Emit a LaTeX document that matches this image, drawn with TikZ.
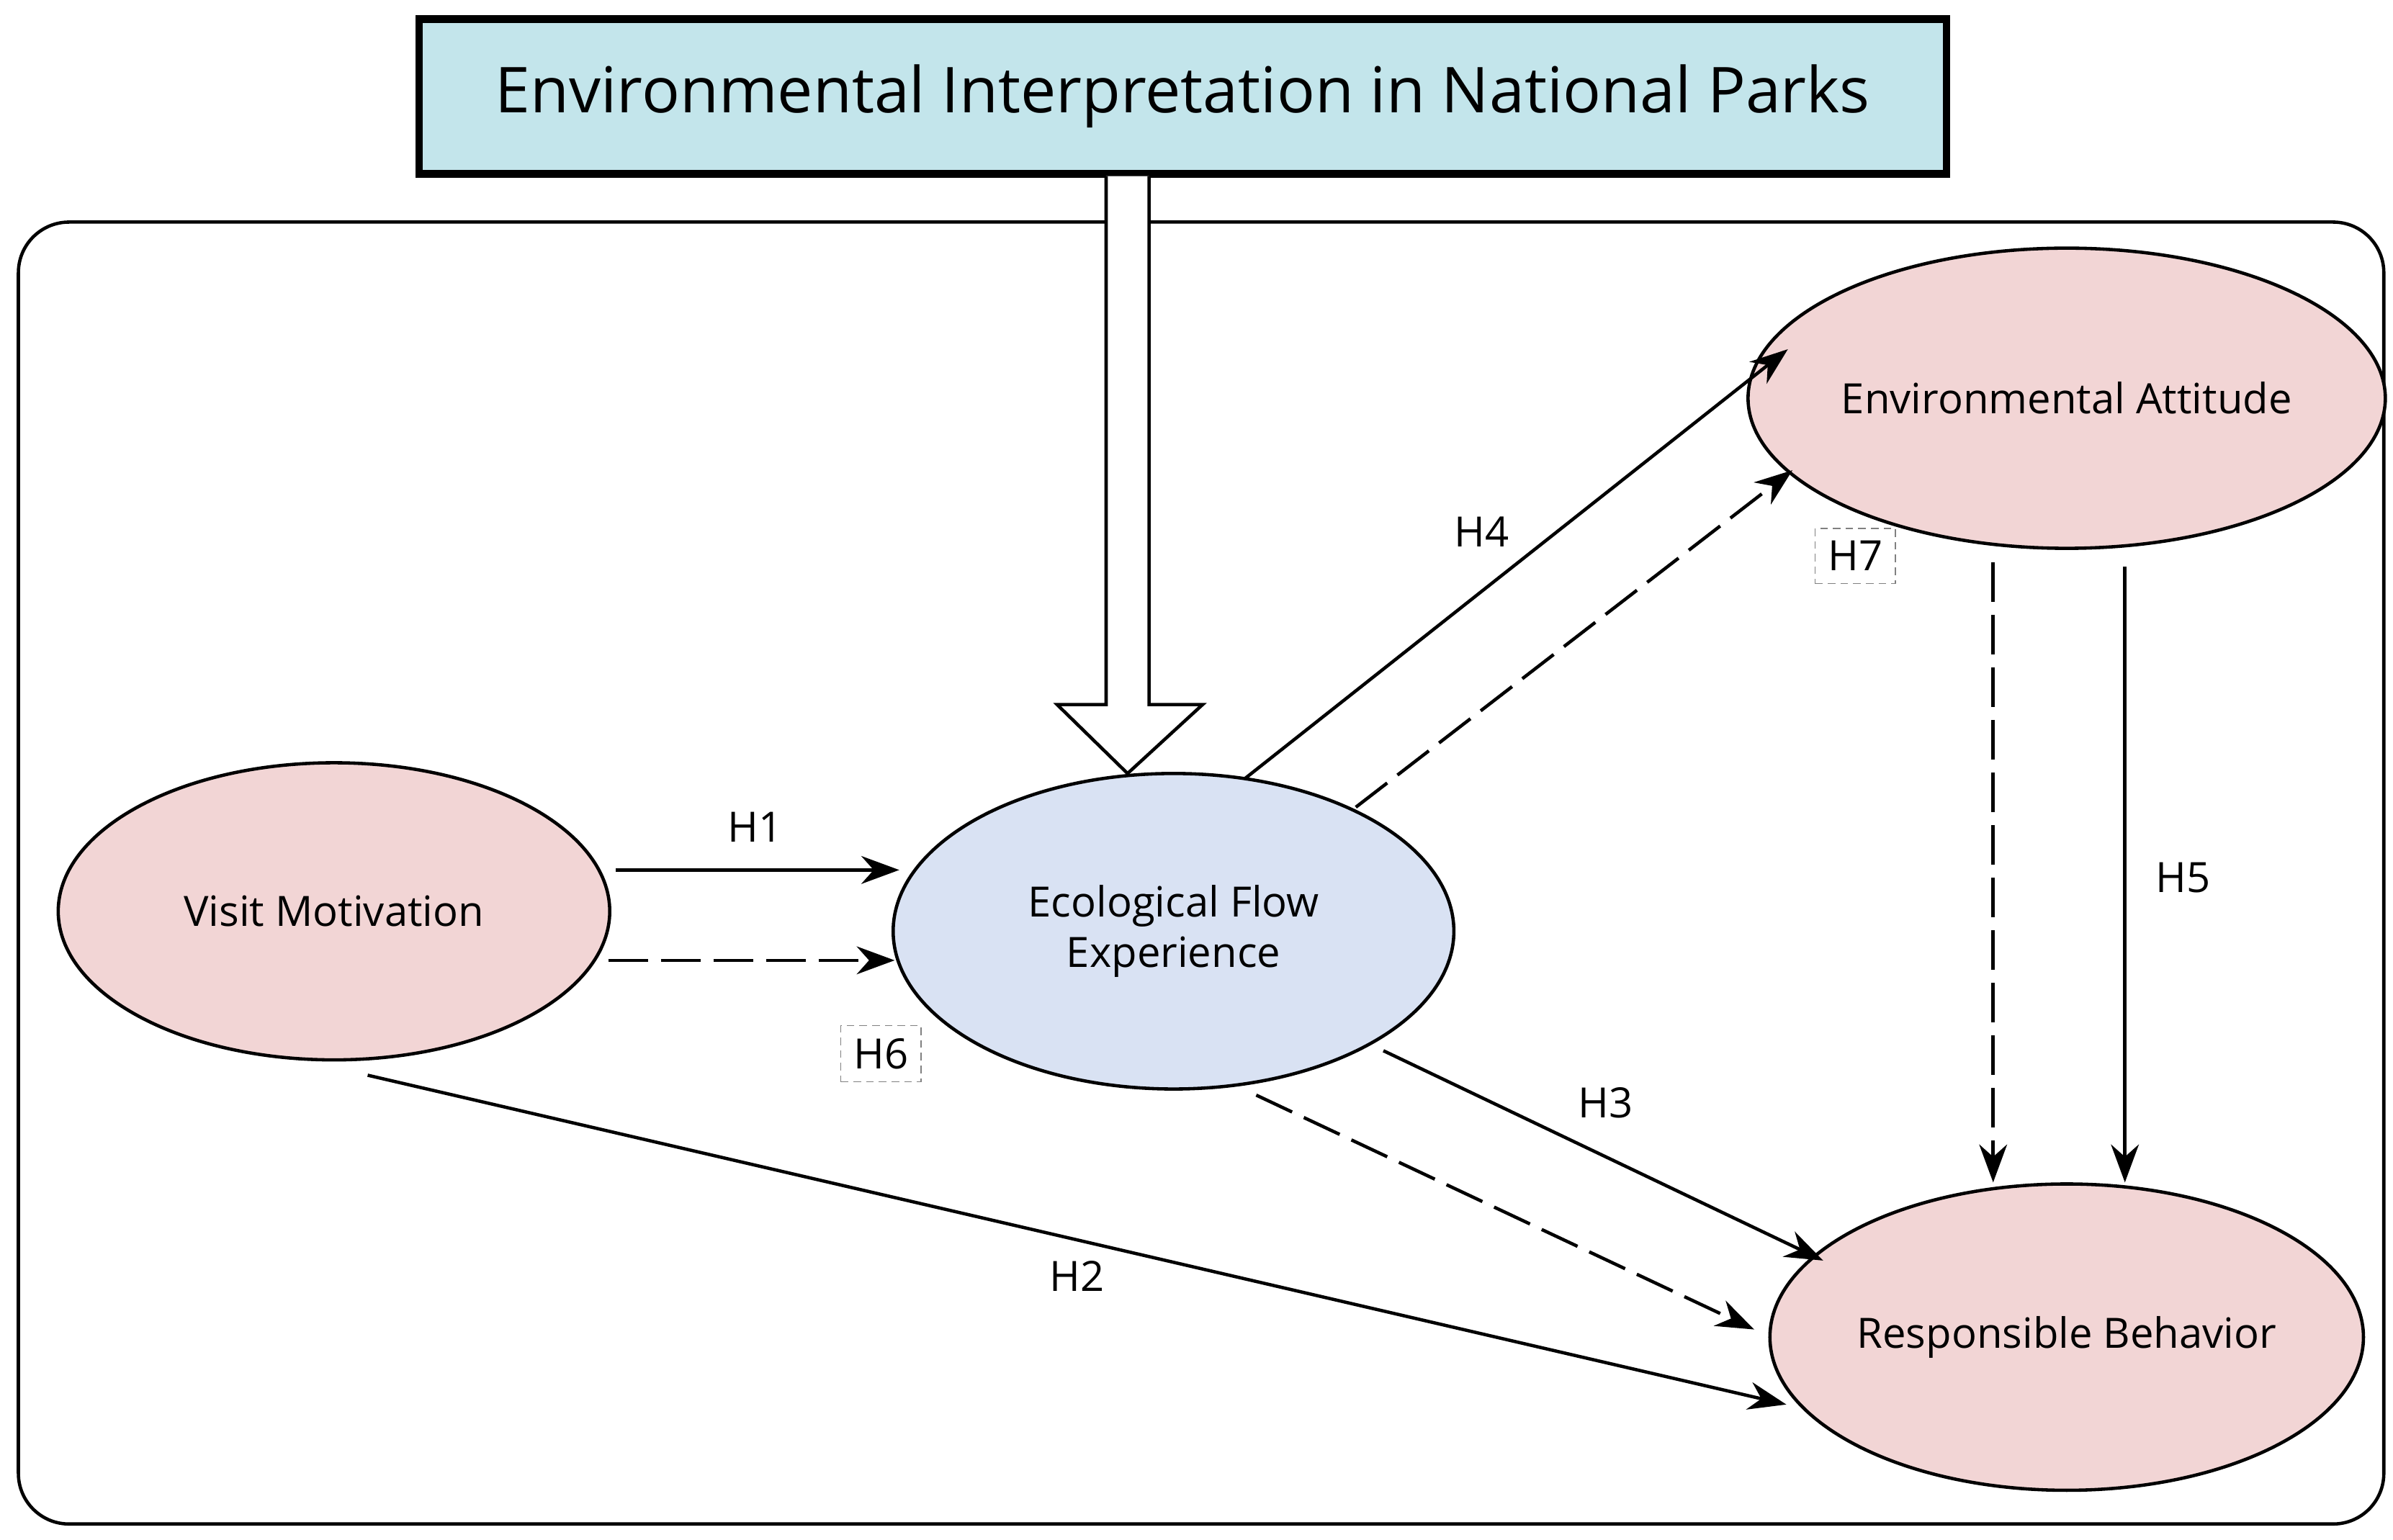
\documentclass[tikz,border=0pt]{standalone}
\usepackage{fontspec}
\setmainfont{Open Sans}
\usetikzlibrary{arrows.meta,shapes.geometric}

\def\u{0.02127cm}
\tikzset{
  factor/.style={ellipse, draw, line width=1.3pt, fill=pinkfill, minimum width=362*\u, minimum height=196*\u, inner sep=0pt, font=\fontsize{16.5}{20}\selectfont},
  path/.style={line width=1.3pt, -{Stealth[length=15pt, width=11pt]}},
  mediate/.style={path, dash pattern=on 0.55cm off 0.18cm},
  hlabel/.style={font=\fontsize{16.5}{20}\selectfont},
  hbox/.style={hlabel, draw=gray, densely dashed, inner sep=5pt}
}
\definecolor{pinkfill}{HTML}{F2D5D5}
\definecolor{bluefill}{HTML}{D9E2F3}
\definecolor{titlefill}{HTML}{C3E5EB}

\begin{document}
\begin{tikzpicture}[x=\u, y=-\u]

% Bounding box
\useasboundingbox (0,0) rectangle (1562,1005);

% Outer frame
\draw[line width=1.3pt, rounded corners=20] (12,145) rectangle (1556,995);

% Title
\node[draw, line width=3pt, fill=titlefill, minimum width=997*\u, minimum height=101*\u, font=\fontsize{25}{30}\selectfont] (title) at (772,63) {Environmental Interpretation in National Parks};

% Constructs
\node[factor, minimum width=360*\u, minimum height=194*\u] (vm) at (218,595) {Visit Motivation};
\node[factor, fill=bluefill, minimum width=366*\u, minimum height=206*\u, align=center] (efe) at (766,608) {Ecological Flow\\Experience};
\node[factor] (ea) at (1349,260) {Environmental Attitude};
\node[factor, minimum height=200*\u] (rb) at (1349,873) {Responsible Behavior};

% Hollow arrow from title
\draw[line width=1.3pt, fill=white] (722,115) -- (722,460) -- (690,460) -- (736,505) -- (785,460) -- (750,460) -- (750,115);

% End points of the paths
\coordinate (h1a) at (402,568); \coordinate (h1b) at (587,568);
\coordinate (h6a) at (397,627); \coordinate (h6b) at (584,627);
\coordinate (h4a) at (813,508); \coordinate (h4b) at (1167,228);
\coordinate (h7a) at (885,527); \coordinate (h7b) at (1170,307);
\coordinate (h3a) at (903,686); \coordinate (h3b) at (1190,823);
\coordinate (m3a) at (820,715); \coordinate (m3b) at (1145,868);
\coordinate (h2a) at (240,702); \coordinate (h2b) at (1166,917);
\coordinate (m5a) at (1301,367); \coordinate (m5b) at (1301,772);
\coordinate (h5a) at (1387,370); \coordinate (h5b) at (1387,772);

% Direct paths
\draw[path] (h1a) -- (h1b);
\draw[path] (h4a) -- (h4b);
\draw[path] (h3a) -- (h3b);
\draw[path] (h2a) -- (h2b);
\draw[path] (h5a) -- (h5b);

% Mediated paths
\draw[mediate] (h6a) -- (h6b);
\draw[mediate] (h7a) -- (h7b);
\draw[mediate] (m3a) -- (m3b);
\draw[mediate] (m5a) -- (m5b);

% Labels
\node[hlabel] (l1) at (493,540) {H1};
\node[hlabel] (l2) at (703,833) {H2};
\node[hlabel] (l3) at (1048,720) {H3};
\node[hlabel] (l4) at (967,347) {H4};
\node[hlabel] (l5) at (1425,573) {H5};
\node[hbox] (l6) at (575,688) {H6};
\node[hbox] (l7) at (1211,363) {H7};

\end{tikzpicture}
\end{document}
